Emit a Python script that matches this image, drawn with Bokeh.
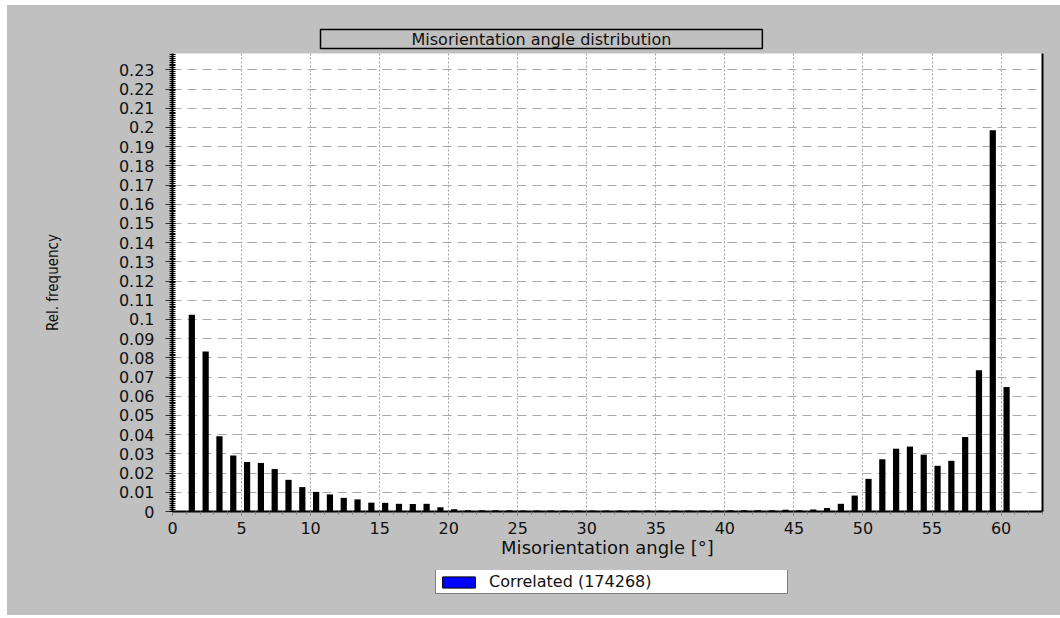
from bokeh.plotting import figure
from bokeh.models import (ColumnDataSource, FixedTicker, LinearAxis,
                          Legend, LegendItem, Range1d, Spacer)
from bokeh.layouts import column, row
from bokeh.transform import dodge
from bokeh.embed import file_html
from bokeh.resources import INLINE

# Misorientation angle bins (degrees) and relative frequency per bin
angles = list(range(1, 61))
rel_freq = [
    0.1024, 0.0833, 0.0392, 0.0292, 0.0258, 0.0253, 0.0221, 0.0165, 0.0127, 0.0102,
    0.0089, 0.0071, 0.0063, 0.0046, 0.0045, 0.0040, 0.0039, 0.0040, 0.0022, 0.0012,
    0.0007, 0.0006, 0.0006, 0.0006, 0.0005, 0.0005, 0.0005, 0.0005, 0.0005, 0.0005,
    0.0005, 0.0005, 0.0005, 0.0005, 0.0005, 0.0005, 0.0005, 0.0005, 0.0005, 0.0006,
    0.0006, 0.0006, 0.0006, 0.0009, 0.0007, 0.0011, 0.0018, 0.0040, 0.0083, 0.0170,
    0.0272, 0.0327, 0.0338, 0.0296, 0.0238, 0.0264, 0.0388, 0.0735, 0.1985, 0.0648,
]

x_ticks = [0, 5, 10, 15, 20, 25, 30, 35, 40, 45, 50, 55, 60]
y_tick_labels = ["0", "0.01", "0.02", "0.03", "0.04", "0.05", "0.06", "0.07",
                 "0.08", "0.09", "0.1", "0.11", "0.12", "0.13", "0.14", "0.15",
                 "0.16", "0.17", "0.18", "0.19", "0.2", "0.21", "0.22", "0.23"]

title_text = "Misorientation angle distribution"
x_label = "Misorientation angle [°]"
y_label = "Rel. frequency"
series_name = "Correlated (174268)"

GRAY = "#c0c0c0"
TICK_FONT = "DejaVu Sans"
NARROW_FONT = "Liberation Sans Narrow, DejaVu Sans Condensed, Liberation Sans, sans-serif"

src = ColumnDataSource(dict(angle=angles, freq=rel_freq))

p = figure(width=1053, height=565,
           x_range=Range1d(0, 63), y_range=Range1d(0, 0.2385),
           output_backend="svg", toolbar_location=None,
           background_fill_color="white", border_fill_color=GRAY,
           min_border_left=165, min_border_right=18,
           min_border_top=48, min_border_bottom=59)
p.outline_line_color = None

# boxed title above the plot area
p.title.text = title_text
p.title.align = "left"
p.title.offset = 148
p.title.standoff = 10
p.title.text_font = TICK_FONT
p.title.text_font_size = "16px"
p.title.text_font_style = "normal"
p.title.text_color = "#111111"
p.title.background_fill_color = GRAY
p.title.border_line_color = "black"
p.title.border_line_width = 1.5
p.title.padding = dict(left=91, right=91, top=0, bottom=0)

# histogram bars
p.vbar(x=dodge("angle", 0.4), top="freq", width=0.45, source=src,
       fill_color="black", line_color=None)

# x axis
xa = p.xaxis[0]
xa.ticker = FixedTicker(ticks=x_ticks, minor_ticks=list(range(0, 64)))
xa.axis_line_color = "black"
xa.axis_line_width = 2
xa.major_tick_line_color = "#808080"
xa.minor_tick_line_color = "#808080"
xa.major_tick_in = 0
xa.major_tick_out = 4
xa.minor_tick_in = 0
xa.minor_tick_out = 3
xa.major_label_standoff = 6
xa.major_label_text_font = TICK_FONT
xa.major_label_text_font_size = "16px"
xa.major_label_text_color = "#111111"
xa.axis_label = x_label
xa.axis_label_text_font = TICK_FONT
xa.axis_label_text_font_size = "18px"
xa.axis_label_text_font_style = "normal"
xa.axis_label_text_color = "#111111"
xa.axis_label_standoff = 0

# y axis
y_ticks = [float(s) for s in y_tick_labels]
ya = p.yaxis[0]
ya.ticker = FixedTicker(ticks=y_ticks, minor_ticks=[i / 1000 for i in range(0, 239)])
ya.major_label_overrides = dict(zip(y_ticks, y_tick_labels))
ya.axis_line_color = "black"
ya.axis_line_width = 2
ya.major_tick_line_color = "#303030"
ya.minor_tick_line_color = "black"
ya.major_tick_in = 3
ya.major_tick_out = 7
ya.minor_tick_in = 3
ya.minor_tick_out = 3
ya.major_label_standoff = 11
ya.major_label_text_font = TICK_FONT
ya.major_label_text_font_size = "16px"
ya.major_label_text_color = "#111111"
ya.axis_label = y_label
ya.axis_label_text_font = NARROW_FONT
ya.axis_label_text_font_size = "15px"
ya.axis_label_text_font_style = "normal"
ya.axis_label_text_color = "#111111"
ya.axis_label_standoff = 54

# right frame edge
right_edge = LinearAxis(ticker=FixedTicker(ticks=[]), axis_line_color="black",
                        axis_line_width=2, major_tick_line_color=None,
                        minor_tick_line_color=None, major_label_text_font_size="0px")
p.add_layout(right_edge, "right")

# grid
p.xgrid.grid_line_color = "#a0a0a0"
p.xgrid.grid_line_dash = "2 2"
p.ygrid.grid_line_color = "#a8a8a8"
p.ygrid.grid_line_dash = "9 6"

# legend strip under the chart; its series renderer (blue fill, black edge)
# lies outside this strip's visible ranges, only its legend swatch shows
lg = figure(width=1053, height=45, x_range=Range1d(-2, -1), y_range=Range1d(1, 2),
            output_backend="svg", toolbar_location=None,
            background_fill_color=GRAY, border_fill_color=GRAY,
            min_border=0, x_axis_location=None, y_axis_location=None)
lg.outline_line_color = None
lg.grid.visible = False
series = lg.vbar(x=dodge("angle", 0.4), top="freq", width=0.45, source=src,
                 fill_color="#0000ff", line_color="black")

legend = Legend(items=[LegendItem(label=series_name, renderers=[series])],
                location=(263, 21), orientation="vertical",
                background_fill_color="white", background_fill_alpha=1.0,
                border_line_color="black", border_line_width=1.5,
                glyph_width=41, glyph_height=14, label_standoff=10,
                label_width=296, padding=2, spacing=0, margin=0,
                label_text_font=TICK_FONT, label_text_font_size="16px",
                label_text_color="#111111")
lg.add_layout(legend, "center")

panel = column(p, lg, spacing=0, styles={"background-color": GRAY})
page = column(Spacer(height=5), row(Spacer(width=7), panel, spacing=0), spacing=0)

with open("out.html", "w") as f:
    f.write(file_html(page, INLINE))
